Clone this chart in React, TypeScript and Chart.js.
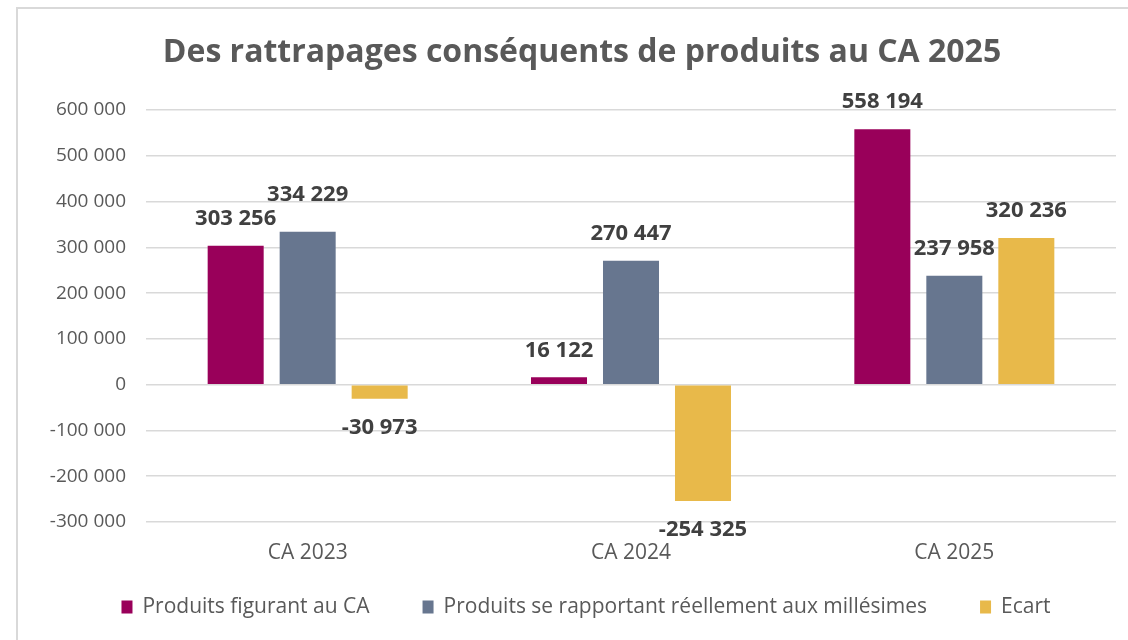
import React, { useEffect, useRef } from 'react';
import { Chart, registerables } from 'chart.js';

Chart.register(...registerables);

const categories = ['CA 2023', 'CA 2024', 'CA 2025'];
const seriesNames = [
  'Produits figurant au CA',
  'Produits se rapportant réellement aux millésimes',
  'Ecart',
];
const produitsCA = [303256, 16122, 558194];
const produitsMillesimes = [334229, 270447, 237958];
const ecart = [-30973, -254325, 320236];
const seriesColors = ['#99005A', '#67768F', '#E8B94A'];
const yMin = -300000;
const yMax = 600000;
const yStep = 100000;
const titleText = 'Des rattrapages conséquents de produits au CA 2025';

const FONT = '"Open Sans", "Liberation Sans", sans-serif';

function fmt(n: number): string {
  const s = Math.abs(Math.round(n)).toString().replace(/\B(?=(\d{3})+(?!\d))/g, ' ');
  return (n < 0 ? '-' : '') + s;
}

const dataLabels = {
  id: 'dataLabels',
  afterDatasetsDraw(chart: any) {
    const ctx = chart.ctx;
    ctx.save();
    ctx.font = `bold 22px ${FONT}`;
    ctx.fillStyle = '#404040';
    ctx.textAlign = 'center';
    ctx.textBaseline = 'middle';
    const h = 16;
    const placed: { x0: number; x1: number; y0: number; y1: number }[] = [];
    chart.data.datasets.forEach((ds: any, i: number) => {
      const meta = chart.getDatasetMeta(i);
      meta.data.forEach((bar: any, j: number) => {
        const v = ds.data[j];
        const txt = fmt(v);
        const w = ctx.measureText(txt).width;
        let y = v >= 0 ? bar.y - 27 : bar.y + 29;
        const x0 = bar.x - w / 2;
        const x1 = bar.x + w / 2;
        for (const r of placed) {
          const overlapX = x0 < r.x1 && x1 > r.x0;
          const overlapY = y - h / 2 < r.y1 && y + h / 2 > r.y0;
          if (overlapX && overlapY && v >= 0) {
            y = r.y0 - 8 - h / 2;
          }
        }
        placed.push({ x0, x1, y0: y - h / 2, y1: y + h / 2 });
        ctx.fillText(txt, bar.x, y);
      });
    });
    ctx.restore();
  },
};

// Title centred on the chart frame (not the canvas)
const TITLE_CENTER_X = 582;
const TITLE_Y = 53;
const frameTitle = {
  id: 'frameTitle',
  afterDraw(chart: any) {
    const ctx = chart.ctx;
    ctx.save();
    ctx.font = `bold 32px ${FONT}`;
    ctx.fillStyle = '#595959';
    ctx.textAlign = 'center';
    ctx.textBaseline = 'middle';
    ctx.fillText(titleText, TITLE_CENTER_X, TITLE_Y);
    ctx.restore();
  },
};

// Legend drawn like the office-style legend: small squares, fixed gap between items
const LEGEND_CENTER_X = 586;
const LEGEND_Y = 607;
const customLegend = {
  id: 'customLegend',
  afterDraw(chart: any) {
    const ctx = chart.ctx;
    ctx.save();
    ctx.font = `21px ${FONT}`;
    ctx.textBaseline = 'middle';
    ctx.textAlign = 'left';
    const boxW = 11;
    const boxH = 13;
    const boxGap = 10;
    const itemGap = 53;
    const items = chart.data.datasets.map((ds: any) => ({
      text: ds.label,
      color: ds.backgroundColor,
      w: boxW + boxGap + ctx.measureText(ds.label).width,
    }));
    const total = items.reduce((s: number, it: any) => s + it.w, 0) + itemGap * (items.length - 1);
    let x = LEGEND_CENTER_X - total / 2;
    for (const it of items) {
      ctx.fillStyle = it.color;
      ctx.fillRect(x, LEGEND_Y - boxH / 2, boxW, boxH);
      ctx.fillStyle = '#595959';
      ctx.fillText(it.text, x + boxW + boxGap, LEGEND_Y);
      x += it.w + itemGap;
    }
    ctx.restore();
  },
};

export default function App() {
  const ref = useRef<HTMLCanvasElement | null>(null);
  useEffect(() => {
    if (!ref.current) return;
    const data = [produitsCA, produitsMillesimes, ecart];
    const chart = new Chart(ref.current, {
      type: 'bar',
      data: {
        labels: categories,
        datasets: seriesNames.map((name, i) => ({
          label: name,
          data: data[i],
          backgroundColor: seriesColors[i],
          borderWidth: 0,
          categoryPercentage: 0.668,
          barPercentage: 0.778,
        })),
      },
      options: {
        animation: false,
        responsive: false,
        maintainAspectRatio: false,
        layout: { padding: { left: 0, right: 12, top: 110, bottom: 56 } },
        plugins: {
          title: { display: false },
          legend: { display: false },
          tooltip: { enabled: false },
        },
        scales: {
          x: {
            grid: { display: false, drawTicks: false },
            border: { display: false },
            ticks: { color: '#595959', font: { family: FONT, size: 21 }, padding: 18.4 },
          },
          y: {
            min: yMin,
            max: yMax,
            afterFit: (scale: any) => {
              scale.width = 146;
            },
            grid: { color: '#D9D9D9', lineWidth: 1.5, drawTicks: false },
            border: { display: false },
            ticks: {
              stepSize: yStep,
              color: '#595959',
              font: { family: FONT, size: 19 },
              padding: 20,
              callback: (v: any) => fmt(Number(v)),
            },
          },
        },
      },
      plugins: [dataLabels, frameTitle, customLegend],
    });
    return () => chart.destroy();
  }, []);

  return (
    <div style={{ position: 'fixed', inset: 0, overflow: 'hidden', background: '#fff' }}>
      <div
        style={{
          position: 'absolute',
          left: 16,
          top: 7,
          width: 1300,
          height: 800,
          borderLeft: '2px solid #D9D9D9',
          borderTop: '2px solid #D9D9D9',
        }}
      />
      <canvas
        ref={ref}
        width={1128}
        height={640}
        style={{ position: 'absolute', left: 0, top: 0, width: 1128, height: 640 }}
      />
    </div>
  );
}
